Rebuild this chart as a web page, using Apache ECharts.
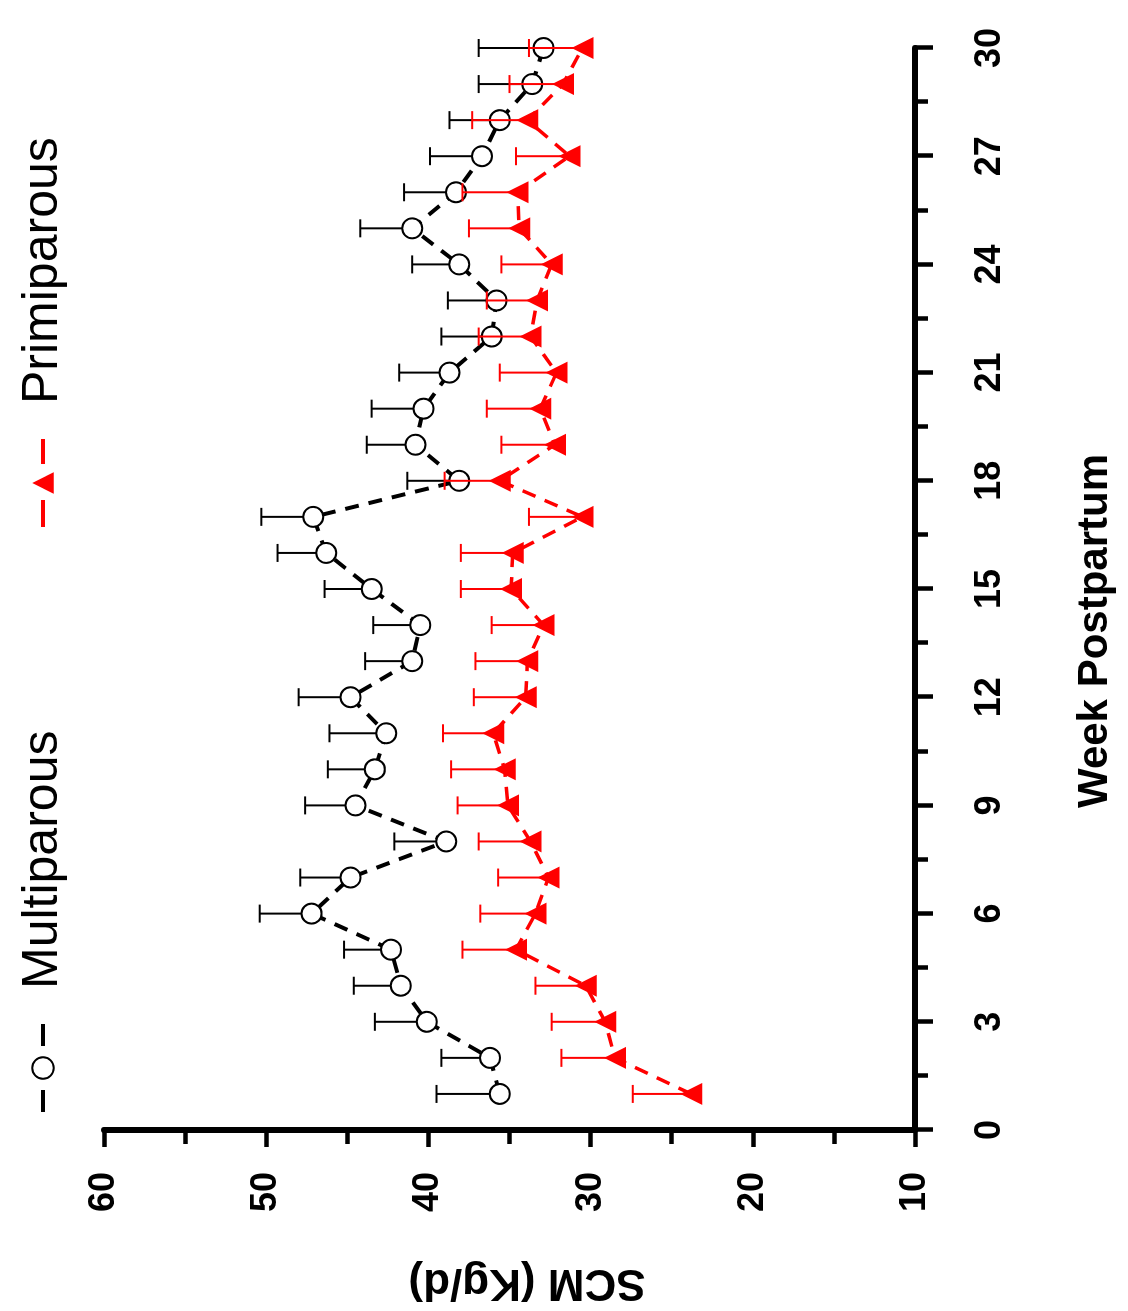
<!DOCTYPE html>
<html>
<head>
<meta charset="utf-8">
<script src="https://cdn.jsdelivr.net/npm/echarts@6/dist/echarts.min.js"></script>
<style>
html, body { margin: 0; padding: 0; background: #fff; }
body { width: 1128px; height: 1311px; overflow: hidden; position: relative; }
/* chart drawn upright, then turned a quarter left like the scan */
#main {
  position: absolute; left: 0; top: 0;
  width: 1311px; height: 1128px;
  transform-origin: 0 0;
  transform: translateY(1311px) rotate(-90deg);
}
</style>
</head>
<body>
<div id="main"></div>
<script>
var weeks = [1, 2, 3, 4, 5, 6, 7, 8, 9, 10, 11, 12, 13, 14, 15, 16, 17, 18, 19, 20, 21, 22, 23, 24, 25, 26, 27, 28, 29, 30]

var multiMean = [35.6, 36.2, 40.1, 41.7, 42.3, 47.2, 44.8, 38.9, 44.5, 43.3, 42.6, 44.8, 41.0, 40.5, 43.5,
  46.3, 47.1, 38.1, 40.8, 40.3, 38.7, 36.1, 35.8, 38.1, 41.0, 38.3, 36.7, 35.6, 33.6, 32.9]
var multiUpper = [39.5, 39.2, 43.3, 44.6, 45.2, 50.4, 47.9, 42.1, 47.6, 46.2, 46.1, 48.0, 43.9, 43.4, 46.4,
  49.3, 50.3, 41.3, 43.8, 43.5, 41.8, 39.2, 38.8, 41.0, 44.2, 41.5, 39.9, 38.7, 36.9, 36.9]

var primiMean = [23.8, 28.5, 29.1, 30.3, 34.6, 33.4, 32.6, 33.7, 35.1, 35.3, 36.0, 34.0, 33.9, 32.9, 34.9,
  34.8, 30.5, 35.6, 32.2, 33.1, 32.1, 33.7, 33.3, 32.4, 34.4, 34.5, 31.3, 33.9, 31.7, 30.5]
var primiUpper = [27.4, 31.8, 32.4, 33.4, 37.9, 36.8, 35.7, 36.9, 38.2, 38.6, 39.1, 37.2, 37.1, 36.1, 38.0,
  38.0, 33.8, 39.0, 35.5, 36.4, 35.6, 36.9, 36.4, 35.5, 37.5, 37.9, 34.6, 37.3, 35.0, 33.8]

var RED = '#ff0000'
var FONT = 'Liberation Sans, Arial, sans-serif'

function pairs (ys) {
  return weeks.map(function (w, i) { return [w, ys[i]] })
}
function bars (lo, hi) {
  return weeks.map(function (w, i) { return [w, lo[i], hi[i]] })
}

function errorBar (color) {
  return function (params, api) {
    var a = api.coord([api.value(0), api.value(1)])
    var b = api.coord([api.value(0), api.value(2)])
    var st = { stroke: color, lineWidth: 2 }
    return {
      type: 'group',
      children: [
        { type: 'line', shape: { x1: a[0], y1: a[1], x2: b[0], y2: b[1] }, style: st },
        { type: 'line', shape: { x1: b[0] - 9, y1: b[1], x2: b[0] + 9, y2: b[1] }, style: st }
      ]
    }
  }
}

var chart = echarts.init(document.getElementById('main'))

var legendBase = {
  itemWidth: 88,
  itemHeight: 27,
  top: 13,
  textStyle: { fontSize: 50, fontFamily: FONT, color: '#000', padding: [0, 0, 0, 30] }
}

var option = {
  animation: false,
  backgroundColor: '#fff',
  legend: [
    Object.assign({}, legendBase, { data: ['Multiparous'], left: 192, lineStyle: { type: [22, 44], width: 4 } }),
    Object.assign({}, legendBase, { data: ['Primiparous'], left: 777, lineStyle: { type: [27, 36], width: 4 } })
  ],
  grid: { left: 181, right: 48, top: 104, bottom: 213 },
  xAxis: {
    type: 'value', min: 0, max: 30, interval: 3,
    axisLine: { onZero: false, lineStyle: { color: '#000', width: 6 } },
    axisTick: { length: 18, lineStyle: { color: '#000', width: 4.5 } },
    minorTick: { show: true, splitNumber: 2, length: 13, lineStyle: { color: '#000', width: 4.5 } },
    splitLine: { show: false },
    axisLabel: { margin: 57, fontSize: 36, fontWeight: 'bold', fontFamily: FONT, color: '#000' }
  },
  yAxis: {
    type: 'value', min: 10, max: 60, interval: 10,
    axisLine: { show: true, onZero: false, lineStyle: { color: '#000', width: 6 } },
    axisTick: { show: true, length: 17, lineStyle: { color: '#000', width: 4.5 } },
    minorTick: { show: true, splitNumber: 2, length: 14, lineStyle: { color: '#000', width: 4.5 } },
    splitLine: { show: false },
    axisLabel: { margin: 42, fontSize: 36, fontWeight: 'bold', fontFamily: FONT, color: '#000' }
  },
  graphic: [
    {
      type: 'text', x: 680, y: 1095,
      style: { text: 'Week Postpartum', fontSize: 42, fontWeight: 'bold', fontFamily: FONT, fill: '#000', align: 'center', verticalAlign: 'middle' }
    },
    {
      type: 'text', x: 29, y: 527, rotation: Math.PI / 2,
      style: { text: 'SCM (Kg/d)', fontSize: 44, fontWeight: 'bold', fontFamily: FONT, fill: '#000', align: 'center', verticalAlign: 'middle' }
    }
  ],
  series: [
    {
      type: 'custom', name: 'multiErr', data: bars(multiMean, multiUpper),
      renderItem: errorBar('#000'), z: 1, silent: true
    },
    {
      type: 'line', name: 'Multiparous', data: pairs(multiMean),
      symbol: 'emptyCircle', symbolSize: 20,
      itemStyle: { color: '#000', borderWidth: 3 },
      lineStyle: { color: '#000', width: 4, type: [14, 10] },
      z: 2
    },
    {
      type: 'custom', name: 'primiErr', data: bars(primiMean, primiUpper),
      renderItem: errorBar(RED), z: 3, silent: true
    },
    {
      type: 'line', name: 'Primiparous', data: pairs(primiMean),
      symbol: 'triangle', symbolSize: 22,
      itemStyle: { color: RED },
      lineStyle: { color: RED, width: 3.5, type: [14, 10] },
      z: 4
    }
  ]
}

chart.setOption(option)
</script>
</body>
</html>
